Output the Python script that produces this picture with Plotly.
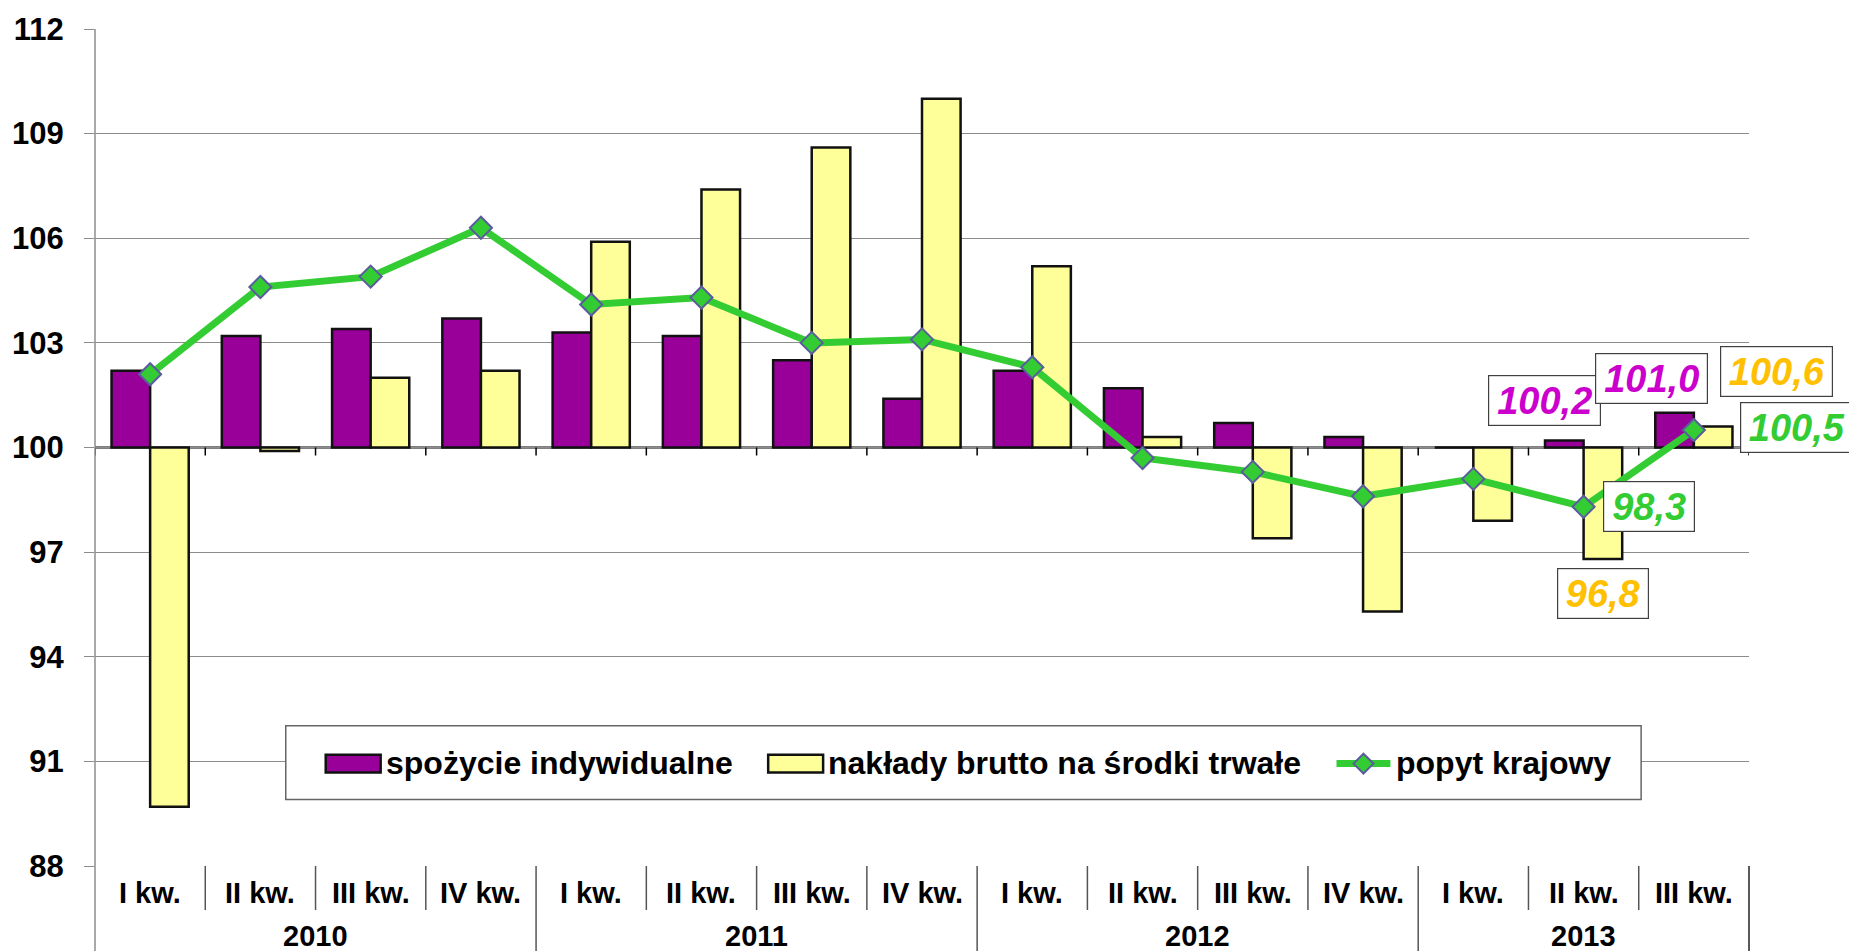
import plotly.graph_objects as go

# ---------------- data ----------------
quarters = ["I kw.", "II kw.", "III kw.", "IV kw.",
            "I kw.", "II kw.", "III kw.", "IV kw.",
            "I kw.", "II kw.", "III kw.", "IV kw.",
            "I kw.", "II kw.", "III kw."]
years = ["2010"] * 4 + ["2011"] * 4 + ["2012"] * 4 + ["2013"] * 3

spozycie = [102.2, 103.2, 103.4, 103.7,
            103.3, 103.2, 102.5, 101.4,
            102.2, 101.7, 100.7, 100.3,
            100.0, 100.2, 101.0]
naklady = [89.7, 99.9, 102.0, 102.2,
           105.9, 107.4, 108.6, 110.0,
           105.2, 100.3, 97.4, 95.3,
           97.9, 96.8, 100.6]
popyt = [102.1, 104.6, 104.9, 106.3,
         104.1, 104.3, 103.0, 103.1,
         102.3, 99.7, 99.3, 98.6,
         99.1, 98.3, 100.5]

series_names = ["spożycie indywidualne", "nakłady brutto na środki trwałe", "popyt krajowy"]
base_level = 100
y_ticks = [88, 91, 94, 97, 100, 103, 106, 109, 112]

# ---------------- style ----------------
FONT = "Liberation Sans, Arial, sans-serif"
PURPLE = "#990099"
YELLOW = "#FFFF99"
GREEN = "#33CC33"
LBL_PURPLE = "#CC00CC"
LBL_ORANGE = "#FFC000"
GRID = "#8c8c8c"

W, H = 1849, 951
ML, MR, MT, MB = 93, 100, 24, 85
PW, PH = W - ML - MR, H - MT - MB


def px2x(px):
    return (px - ML) / PW


def px2y(py):
    return (H - MB - py) / PH


n = len(quarters)
xpos = list(range(n))

fig = go.Figure()
fig.add_trace(go.Bar(
    x=xpos, y=[v - base_level for v in spozycie], base=base_level,
    name=series_names[0], marker=dict(color=PURPLE, line=dict(color="#111111", width=2.5)),
    showlegend=False))
fig.add_trace(go.Bar(
    x=xpos, y=[v - base_level for v in naklady], base=base_level,
    name=series_names[1], marker=dict(color=YELLOW, line=dict(color="#111111", width=2.5)),
    showlegend=False))
fig.add_trace(go.Scatter(
    x=xpos, y=popyt, mode="lines+markers", name=series_names[2],
    line=dict(color=GREEN, width=7),
    marker=dict(symbol="diamond", size=17, color=GREEN, line=dict(color="#5B5B9F", width=2)),
    showlegend=False))

shapes = []
# baseline at 100 with small ticks at category boundaries
shapes.append(dict(type="line", xref="paper", yref="y", x0=0, x1=1, y0=base_level, y1=base_level,
                   line=dict(color="#000000", width=2), layer="between"))
for k in range(n + 1):
    shapes.append(dict(type="line", xref="x", yref="y", ysizemode="pixel", yanchor=base_level,
                       x0=k - 0.5, x1=k - 0.5, y0=0, y1=-8,
                       line=dict(color="#000000", width=1.5), layer="between"))

# category table below the plot
for k in range(1, n):
    is_year_boundary = years[k] != years[k - 1]
    shapes.append(dict(type="line", xref="paper", yref="paper", ysizemode="pixel", yanchor=0,
                       x0=k / n, x1=k / n, y0=0, y1=-(MB + 5) if is_year_boundary else -44,
                       line=dict(color="#555555", width=1.5)))
# left axis line extended, right edge
shapes.append(dict(type="line", xref="paper", yref="paper", ysizemode="pixel", yanchor=1,
                   x0=0, x1=0, y0=0, y1=-(PH + MB + 5), line=dict(color=GRID, width=1.5)))
shapes.append(dict(type="line", xref="paper", yref="paper", ysizemode="pixel", yanchor=0,
                   x0=1, x1=1, y0=0, y1=-(MB + 5), line=dict(color="#222222", width=1.5)))

# legend box
shapes.append(dict(type="rect", xref="paper", yref="paper",
                   x0=px2x(284), x1=px2x(1641), y0=px2y(799), y1=px2y(725),
                   fillcolor="white", line=dict(color="#666666", width=1.5), layer="above"))
shapes.append(dict(type="rect", xref="paper", yref="paper",
                   x0=px2x(324), x1=px2x(379), y0=px2y(772), y1=px2y(754),
                   fillcolor=PURPLE, line=dict(color="#111111", width=2.5), layer="above"))
shapes.append(dict(type="rect", xref="paper", yref="paper",
                   x0=px2x(767), x1=px2x(822), y0=px2y(772), y1=px2y(754),
                   fillcolor=YELLOW, line=dict(color="#111111", width=2.5), layer="above"))
shapes.append(dict(type="line", xref="paper", yref="paper",
                   x0=px2x(1336), x1=px2x(1390), y0=px2y(763), y1=px2y(763),
                   line=dict(color=GREEN, width=7), layer="above"))
cx, cy = 1363, 763
dpath = "M{},{} L{},{} L{},{} L{},{} Z".format(
    px2x(cx - 10), px2y(cy), px2x(cx), px2y(cy - 10), px2x(cx + 10), px2y(cy), px2x(cx), px2y(cy + 10))
shapes.append(dict(type="path", xref="paper", yref="paper", path=dpath,
                   fillcolor=GREEN, line=dict(color="#5B5B9F", width=2), layer="above"))

annotations = []
# legend texts
for name, xl in zip(series_names, [382, 825, 1394]):
    annotations.append(dict(text=name, xref="paper", yref="paper", x=px2x(xl), y=px2y(762),
                            xanchor="left", yanchor="middle", showarrow=False,
                            font=dict(family=FONT, size=32, color="black", weight="bold")))
# quarter labels
for i, q in enumerate(quarters):
    annotations.append(dict(text=q, xref="x", yref="paper", x=i, y=0, yshift=-27,
                            xanchor="center", yanchor="middle", showarrow=False,
                            font=dict(family=FONT, size=29, color="black", weight="bold")))
# year labels
seen = []
for yv in years:
    if yv not in seen:
        seen.append(yv)
for yv in seen:
    idx = [i for i, y in enumerate(years) if y == yv]
    annotations.append(dict(text=yv, xref="x", yref="paper", x=sum(idx) / len(idx), y=0, yshift=-70,
                            xanchor="center", yanchor="middle", showarrow=False,
                            font=dict(family=FONT, size=29, color="black", weight="bold")))


def fmt(v):
    return f"{v:.1f}".replace(".", ",")


def data_label(i, v, color, xs, ys):
    txt = fmt(v)
    fs = 38
    w = 14 + fs * (0.556 * (len(txt) - 1) + 0.278)
    return dict(text=txt, xref="x", yref="y", x=i, y=v, xshift=xs, yshift=ys,
                xanchor="center", yanchor="middle", showarrow=False,
                width=w, height=47, bgcolor="white", bordercolor="#404040", borderwidth=1.2, borderpad=1,
                font=dict(family=FONT, size=fs, color=color, weight="bold", style="italic"))


annotations += [
    data_label(13, spozycie[13], LBL_PURPLE, -39, 40),
    data_label(14, spozycie[14], LBL_PURPLE, -42, 34),
    data_label(14, naklady[14], LBL_ORANGE, 83, 55),
    data_label(14, popyt[14], GREEN, 103, 3),
    data_label(13, popyt[13], GREEN, 65, 0),
    data_label(13, naklady[13], LBL_ORANGE, 19, -34),
]

fig.update_layout(
    width=W, height=H, autosize=False,
    margin=dict(l=ML, r=MR, t=MT, b=MB, pad=0),
    paper_bgcolor="white", plot_bgcolor="white",
    barmode="group", bargap=0.3, bargroupgap=0,
    shapes=shapes, annotations=annotations,
    xaxis=dict(range=[-0.5, n - 0.5], showticklabels=False, showgrid=False, zeroline=False,
               showline=False, ticks=""),
    yaxis=dict(range=[y_ticks[0], y_ticks[-1]], tickmode="array", tickvals=y_ticks,
               showgrid=True, gridcolor=GRID, gridwidth=1.4, zeroline=False,
               showline=False, ticks="outside", ticklen=10, tickcolor=GRID, tickwidth=1.4,
               ticklabelstandoff=14,
               tickfont=dict(family=FONT, size=31, color="black", weight="bold")),
)

fig.write_html("out.html", config={"displayModeBar": False},
               post_script="document.body.style.margin='0px';document.body.style.overflow='hidden';")
